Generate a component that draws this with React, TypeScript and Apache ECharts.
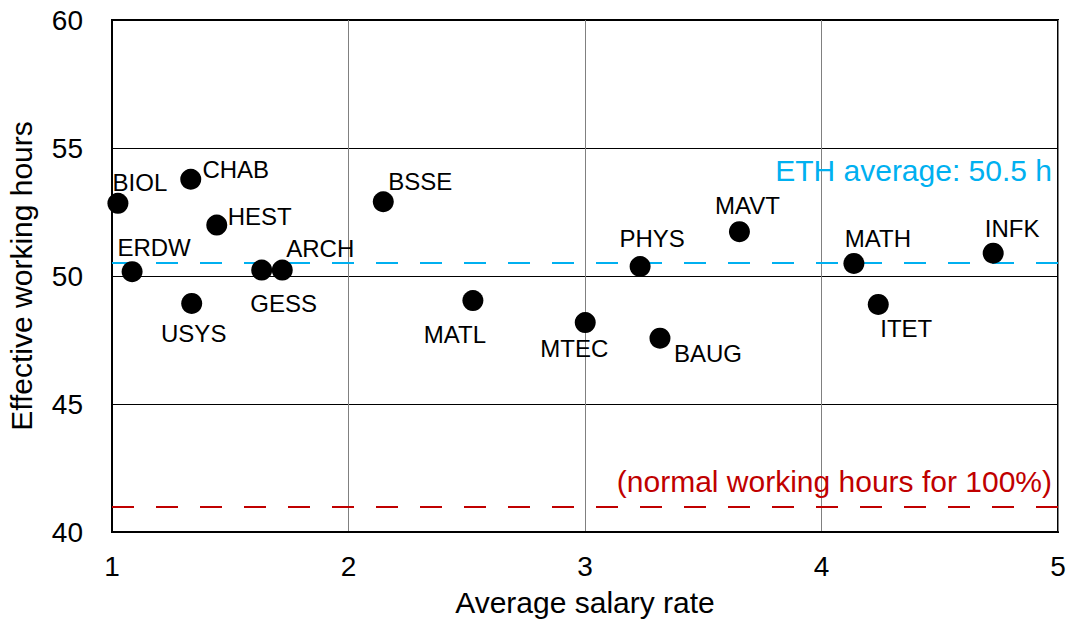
import React, { useEffect, useRef } from "react";
import * as echarts from "echarts";

const departments = ["BIOL", "CHAB", "HEST", "ERDW", "ARCH", "GESS", "USYS", "BSSE", "MATL", "MTEC", "PHYS", "BAUG", "MAVT", "MATH", "ITET", "INFK"];
const salaryRate = [1.025, 1.333, 1.443, 1.085, 1.72, 1.633, 1.337, 2.147, 2.526, 3.001, 3.233, 3.317, 3.653, 4.137, 4.24, 4.726];
const workingHours = [52.84, 53.78, 51.99, 50.17, 50.23, 50.23, 48.93, 52.9, 49.04, 48.18, 50.37, 47.57, 51.73, 50.49, 48.89, 50.89];
const ethAverage = 50.5;
const normalHours = 41;

// label placement (pixel offsets from the marker centre)
const labelOffsets: Record<string, [number, number]> = {
  BIOL: [22, -21], CHAB: [45, -10], HEST: [43, -9], ERDW: [22, -24],
  ARCH: [38, -22], GESS: [22, 33], USYS: [2, 30], BSSE: [37, -20],
  MATL: [-18, 34], MTEC: [-11, 26], PHYS: [12, -28], BAUG: [48, 15],
  MAVT: [8, -26], MATH: [24, -25], ITET: [28, 24], INFK: [19, -25],
};

const FONT = "'Liberation Sans', Arial, sans-serif";

export default function App() {
  const ref = useRef<HTMLDivElement>(null);
  useEffect(() => {
    document.body.style.margin = "0";
    const chart = echarts.init(ref.current!, null, { renderer: "svg" });
    const data = departments.map((d, i) => ({
      name: d,
      value: [salaryRate[i], workingHours[i]],
      label: { offset: labelOffsets[d] },
    }));
    chart.setOption({
      animation: false,
      textStyle: { fontFamily: FONT },
      grid: {
        left: 112, top: 20, right: 9, bottom: 91, show: true,
        borderColor: "#000", borderWidth: 2, backgroundColor: "#fff",
        outerBoundsMode: "none", containLabel: false,
      },
      xAxis: {
        type: "value", min: 1, max: 5, interval: 1,
        name: "Average salary rate", nameLocation: "middle", nameGap: 55,
        nameTextStyle: { fontSize: 30, color: "#000", fontFamily: FONT },
        axisLine: { show: true, lineStyle: { color: "#000", width: 2 } },
        axisTick: { show: false },
        axisLabel: { fontSize: 28, color: "#000", margin: 20, fontFamily: FONT },
        splitLine: { show: true, lineStyle: { color: "#808080", width: 1 } },
      },
      yAxis: {
        type: "value", min: 40, max: 60, interval: 5,
        name: "Effective working hours", nameLocation: "middle", nameGap: 76,
        nameTextStyle: { fontSize: 30, color: "#000", fontFamily: FONT },
        axisLine: { show: true, lineStyle: { color: "#000", width: 2 } },
        axisTick: { show: false },
        axisLabel: { fontSize: 28, color: "#000", margin: 29, fontFamily: FONT },
        splitLine: { show: true, lineStyle: { color: "#000", width: 1 } },
      },
      series: [
        {
          type: "scatter",
          data,
          symbolSize: 21,
          itemStyle: { color: "#000", opacity: 1 },
          label: {
            show: true, position: "inside", formatter: "{b}",
            fontSize: 24, color: "#000", opacity: 1, textBorderWidth: 0, fontFamily: FONT,
          },
          emphasis: { disabled: true },
          z: 5,
          markLine: {
            silent: true,
            symbol: "none",
            data: [
              {
                yAxis: ethAverage,
                lineStyle: { color: "#00B0F0", type: [22, 22], width: 2, opacity: 1 },
                label: {
                  show: true, position: "insideEndTop", formatter: "ETH average: 50.5 h",
                  fontSize: 30, color: "#00B0F0", fontFamily: FONT, distance: [6, 78],
                },
              },
              {
                yAxis: normalHours,
                lineStyle: { color: "#C00000", type: [22, 22], width: 2, opacity: 1 },
                label: {
                  show: true, position: "insideEndTop", formatter: "(normal working hours for 100%)",
                  fontSize: 30, color: "#C00000", fontFamily: FONT, distance: [6, 10],
                },
              },
            ],
          },
        },
      ],
    });
    return () => chart.dispose();
  }, []);
  return <div ref={ref} style={{ width: 1067, height: 623 }} />;
}
